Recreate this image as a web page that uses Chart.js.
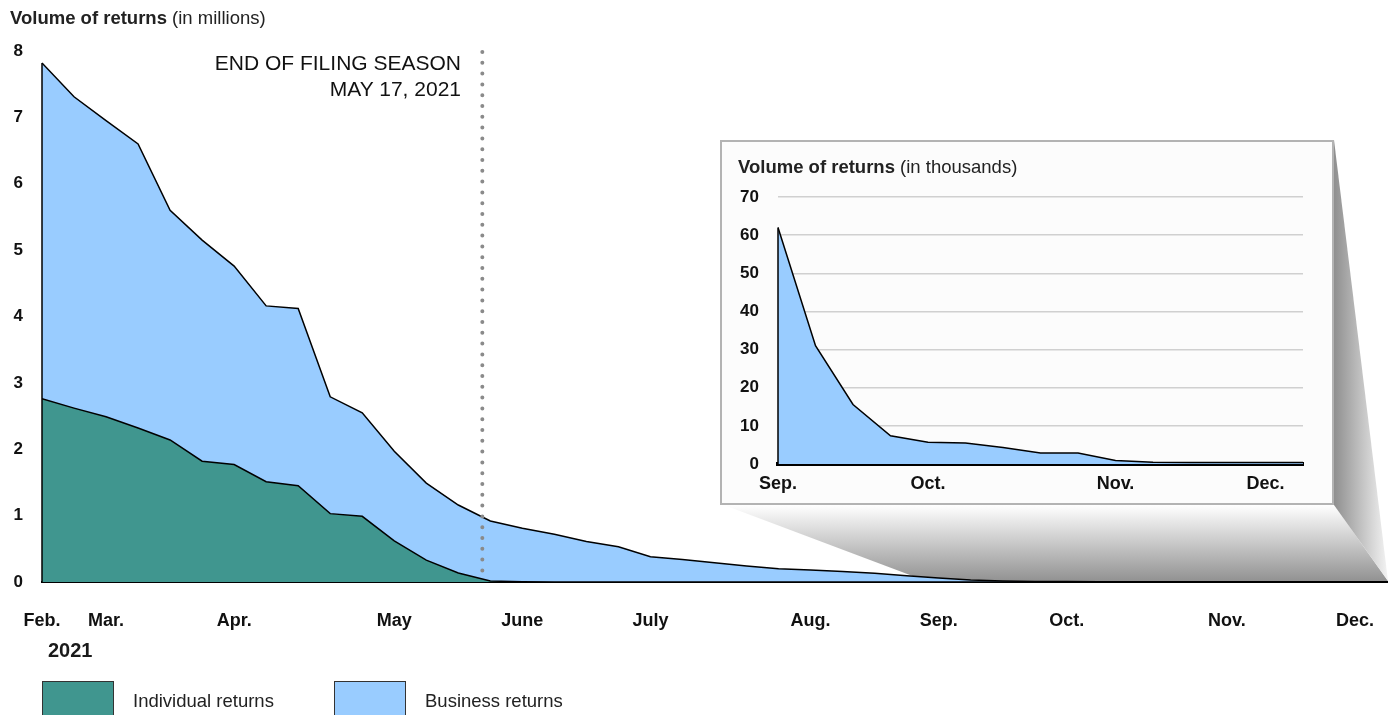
<!DOCTYPE html>
<html>
<head>
<meta charset="utf-8">
<script src="https://cdn.jsdelivr.net/npm/chart.js@4.4.1/dist/chart.umd.min.js"></script>
<style>
  body { margin: 0; background: #fff; font-family: "Liberation Sans", Arial, sans-serif; color: #1a1a1a; }
  #wrap { position: relative; width: 1388px; height: 715px; overflow: hidden; }
  #mainChart { position: absolute; left: 0; top: 0; }
  .txt { position: absolute; white-space: nowrap; }
  .title { font-size: 18.5px; color: #222; }
  .title b { font-weight: bold; }
  #note { right: 927px; top: 50px; font-size: 21px; line-height: 26px; text-align: right; color: #111; }
  #year { left: 48px; top: 639px; font-size: 20px; font-weight: bold; }
  .swatch { position: absolute; top: 681px; width: 70px; height: 40px; border: 1px solid #333; }
  .legtxt { position: absolute; top: 690px; font-size: 18.5px; color: #222; }
  #insetBox { position: absolute; left: 720px; top: 140px; width: 614px; height: 365px;
              box-sizing: border-box; border: 2px solid #b3b3b3; background: #fcfcfc; }
  #insetChart { position: absolute; left: 0; top: 0; }
</style>
</head>
<body>
<div id="wrap">
  <canvas id="mainChart" width="1388" height="715"></canvas>
  <div class="txt title" style="left:10px; top:7px"><b>Volume of returns</b> (in millions)</div>
  <div class="txt" id="note">END OF FILING SEASON<br>MAY 17, 2021</div>
  <div class="txt" id="year">2021</div>
  <div class="swatch" style="left:42px; background:#40968f"></div>
  <div class="legtxt" style="left:133px">Individual returns</div>
  <div class="swatch" style="left:334px; background:#99ccff"></div>
  <div class="legtxt" style="left:425px">Business returns</div>
  <div id="insetBox">
    <canvas id="insetChart" width="610" height="361"></canvas>
    <div class="txt title" style="left:16px; top:14px"><b>Volume of returns</b> (in thousands)</div>
  </div>
</div>
<script>
// weekly volumes, in millions, first week of Feb. 2021 to Dec.
const individualReturns = [
  2.76, 2.62, 2.49, 2.32, 2.14, 1.82, 1.77, 1.51, 1.45, 1.03, 0.99, 0.62, 0.33, 0.135, 0.015, 0.003,
  0, 0, 0, 0, 0, 0, 0, 0, 0, 0, 0, 0, 0, 0, 0, 0, 0, 0, 0, 0, 0, 0, 0, 0, 0, 0, 0
];
const businessReturns = [
  5.06, 4.69, 4.46, 4.28, 3.46, 3.33, 2.99, 2.65, 2.67, 1.76, 1.56, 1.35, 1.16, 1.025, 0.905, 0.807,
  0.72, 0.61, 0.53, 0.38, 0.34, 0.29, 0.24, 0.20, 0.18, 0.16, 0.13, 0.095,
  0.062, 0.031, 0.0156, 0.0074, 0.0057, 0.0055, 0.0043, 0.0029, 0.0029, 0.0009, 0.00045, 0.0004, 0.0004, 0.0004, 0.0004
];
const weekIndex = businessReturns.map((_, i) => i);

const monthWeeks = [0, 2, 6, 11, 15, 19, 24, 28, 32, 37, 41];
const monthLabels = ['Feb.', 'Mar.', 'Apr.', 'May', 'June', 'July', 'Aug.', 'Sep.', 'Oct.', 'Nov.', 'Dec.'];
const yTicksMain = [0, 1, 2, 3, 4, 5, 6, 7, 8];

const filingEndWeek = 13.75;   // May 17, 2021
const zoomStartWeek = 27.6;    // where the inset shadow lands

// inset: Sep. to Dec., in thousands
const insetStart = 28;
const insetWeeks = weekIndex.slice(insetStart).map(w => w - insetStart);
const insetValues = businessReturns.slice(insetStart).map(v => v * 1000);
const insetMonthWeeks = [0, 4, 9, 13];
const insetMonthLabels = ['Sep.', 'Oct.', 'Nov.', 'Dec.'];
const yTicksInset = [0, 10, 20, 30, 40, 50, 60, 70];

const TEAL = '#40968f';
const BLUE = '#99ccff';
const insetRect = { left: 720, top: 140, right: 1334, bottom: 505 };

Chart.defaults.font.family = "'Liberation Sans', Arial, sans-serif";
Chart.defaults.color = '#111';

const toPoints = arr => arr.map((v, i) => ({ x: weekIndex[i], y: v }));

// keep the plot area flush with the edges, labels may overhang
const noEdgePadding = s => {
  s.paddingLeft = 0;
  s.paddingRight = 0;
};

// vertical outline on the left side of the stacked area
const leftEdge = {
  id: 'leftEdge',
  afterDatasetsDraw(chart) {
    const { ctx, chartArea } = chart;
    const meta = chart.getDatasetMeta(chart.data.datasets.length - 1);
    const first = meta.data[0];
    ctx.save();
    ctx.strokeStyle = '#000';
    ctx.lineWidth = 1.5;
    ctx.beginPath();
    ctx.moveTo(first.x, chartArea.bottom);
    ctx.lineTo(first.x, first.y);
    ctx.stroke();
    ctx.restore();
  }
};

const filingLine = {
  id: 'filingLine',
  afterDatasetsDraw(chart) {
    const { ctx, chartArea, scales } = chart;
    const x = scales.x.getPixelForValue(filingEndWeek);
    ctx.save();
    ctx.strokeStyle = '#8a8a8a';
    ctx.lineWidth = 4;
    ctx.lineCap = 'round';
    ctx.setLineDash([0, 10.8]);
    ctx.beginPath();
    ctx.moveTo(x, scales.y.getPixelForValue(8) + 1);
    ctx.lineTo(x, chartArea.bottom - 2);
    ctx.stroke();
    ctx.restore();
  }
};

// grey "magnifier" faces joining the inset box to the main axis
const zoomShadow = {
  id: 'zoomShadow',
  beforeDraw(chart) {
    const { ctx, chartArea, scales } = chart;
    const base = chartArea.bottom - 1;
    const xl = scales.x.getPixelForValue(zoomStartWeek);
    const xr = chartArea.right + 1;
    const r = insetRect;
    ctx.save();
    let g = ctx.createLinearGradient(0, r.bottom, 0, base);
    g.addColorStop(0, '#ffffff');
    g.addColorStop(1, '#929292');
    ctx.fillStyle = g;
    ctx.beginPath();
    ctx.moveTo(r.left + 4, r.bottom);
    ctx.lineTo(r.right, r.bottom);
    ctx.lineTo(xr, base);
    ctx.lineTo(xl, base);
    ctx.closePath();
    ctx.fill();

    g = ctx.createLinearGradient(r.right, 0, xr, 0);
    g.addColorStop(0, '#8f8f8f');
    g.addColorStop(1, '#f4f4f4');
    ctx.fillStyle = g;
    ctx.beginPath();
    ctx.moveTo(r.right, r.top);
    ctx.lineTo(xr, base);
    ctx.lineTo(r.right, r.bottom);
    ctx.closePath();
    ctx.fill();
    ctx.restore();
  }
};

new Chart(document.getElementById('mainChart'), {
  type: 'line',
  data: {
    datasets: [
      {
        label: 'Individual returns',
        data: toPoints(individualReturns),
        backgroundColor: TEAL,
        borderColor: '#000',
        borderWidth: 1.5,
        fill: 'origin',
        pointRadius: 0,
        tension: 0
      },
      {
        label: 'Business returns',
        data: toPoints(businessReturns),
        backgroundColor: BLUE,
        borderColor: '#000',
        borderWidth: 1.5,
        fill: '-1',
        pointRadius: 0,
        tension: 0
      }
    ]
  },
  options: {
    responsive: false,
    animation: false,
    devicePixelRatio: 1,
    layout: { padding: { top: 51, right: 1, bottom: 83, left: 0 } },
    plugins: { legend: { display: false }, tooltip: { enabled: false } },
    scales: {
      x: {
        type: 'linear',
        min: 0,
        max: 42,
        z: 1,
        grid: { display: false, drawTicks: false },
        border: { display: true, color: '#000', width: 2 },
        afterBuildTicks: s => { s.ticks = monthWeeks.map(v => ({ value: v })); },
        afterFit: s => { s.height = 50; noEdgePadding(s); },
        ticks: {
          autoSkip: false,
          maxRotation: 0,
          padding: 28,
          font: { size: 18, weight: 'bold' },
          callback: v => monthLabels[monthWeeks.indexOf(v)]
        }
      },
      y: {
        stacked: true,
        min: 0,
        max: 8,
        grid: { display: false, drawTicks: false },
        border: { display: false },
        afterBuildTicks: s => { s.ticks = yTicksMain.map(v => ({ value: v })); },
        afterFit: s => { s.width = 42; },
        ticks: { padding: 19, font: { size: 17, weight: 'bold' } }
      }
    }
  },
  plugins: [zoomShadow, leftEdge, filingLine]
});

new Chart(document.getElementById('insetChart'), {
  type: 'line',
  data: {
    datasets: [{
      label: 'Business returns',
      data: insetValues.map((v, i) => ({ x: insetWeeks[i], y: v })),
      backgroundColor: BLUE,
      borderColor: '#000',
      borderWidth: 1.5,
      fill: 'origin',
      pointRadius: 0,
      tension: 0
    }]
  },
  options: {
    responsive: false,
    animation: false,
    devicePixelRatio: 1,
    layout: { padding: { top: 55, right: 29, bottom: 9, left: 0 } },
    plugins: { legend: { display: false }, tooltip: { enabled: false } },
    scales: {
      x: {
        type: 'linear',
        min: 0,
        max: 14,
        z: 1,
        grid: { display: false, drawTicks: false },
        border: { display: true, color: '#000', width: 4 },
        afterBuildTicks: s => { s.ticks = insetMonthWeeks.map(v => ({ value: v })); },
        afterFit: s => { s.height = 30; noEdgePadding(s); },
        ticks: {
          autoSkip: false,
          maxRotation: 0,
          padding: 9,
          font: { size: 18, weight: 'bold' },
          callback: v => insetMonthLabels[insetMonthWeeks.indexOf(v)]
        }
      },
      y: {
        min: 0,
        max: 70,
        grid: { color: '#d0d0d0', lineWidth: 1.5, drawTicks: false },
        border: { display: false },
        afterBuildTicks: s => { s.ticks = yTicksInset.map(v => ({ value: v })); },
        afterFit: s => { s.width = 56; },
        ticks: { padding: 19, font: { size: 17, weight: 'bold' } }
      }
    }
  },
  plugins: [leftEdge]
});
</script>
</body>
</html>
